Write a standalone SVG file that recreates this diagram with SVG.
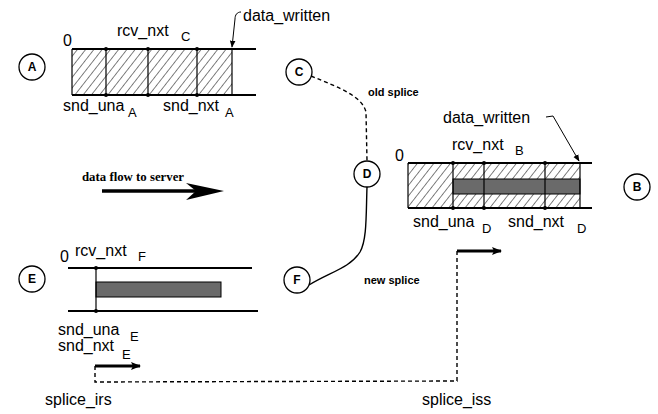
<svg xmlns="http://www.w3.org/2000/svg" width="658" height="414" viewBox="0 0 658 414">
<defs>
<pattern id="hatch" patternUnits="userSpaceOnUse" width="6.5" height="6.5" patternTransform="rotate(38)">
<line x1="0" y1="-1" x2="0" y2="8" stroke="#000" stroke-width="1"/>
</pattern>
<marker id="ah" viewBox="0 0 10 10" refX="9" refY="5" markerWidth="7" markerHeight="7" orient="auto" markerUnits="userSpaceOnUse">
<path d="M0,1 L10,5 L0,9 Z" fill="#000"/>
</marker>
<marker id="bigah" viewBox="0 0 10 10" refX="9" refY="5" markerWidth="14" markerHeight="10" orient="auto" markerUnits="userSpaceOnUse">
<path d="M0,1 L10,5 L0,9 L2,5 Z" fill="#000"/>
</marker>
</defs>
<style>
.t{font-family:"Liberation Sans",Arial,sans-serif;font-size:16px;fill:#000}
.s{font-family:"Liberation Sans",Arial,sans-serif;font-size:13px;fill:#000}
.lb{font-family:"Liberation Sans",Arial,sans-serif;font-size:11px;font-weight:bold;fill:#000}
.sf{font-family:"Liberation Serif","Times New Roman",serif;font-size:12.5px;font-weight:bold;fill:#000}
.nc{fill:#fff;stroke:#000;stroke-width:1.3}
.nt{font-family:"Liberation Sans",Arial,sans-serif;font-size:12px;font-weight:bold;text-anchor:middle;fill:#000}
.ln{stroke:#000;stroke-width:2;fill:none}
.dv{stroke:#000;stroke-width:1.2;fill:none}
.hb{fill:url(#hatch);stroke:none}
.gb{fill:#6a6a6a;stroke:#000;stroke-width:1}
.dash{stroke:#000;stroke-width:1.4;fill:none;stroke-dasharray:4,3}
.sol{stroke:#000;stroke-width:1.4;fill:none}
.ld{stroke:#000;stroke-width:1;fill:none}
</style>

<g id="panel-A">
<rect class="hb" x="72" y="49" width="160" height="46"/>
<line class="ln" x1="72" y1="49" x2="256" y2="49"/>
<line class="ln" x1="72" y1="95" x2="256" y2="95"/>
<line class="dv" x1="72" y1="49" x2="72" y2="95"/>
<line class="dv" x1="106" y1="49" x2="106" y2="95"/>
<line class="dv" x1="148" y1="49" x2="148" y2="95"/>
<line class="dv" x1="197" y1="49" x2="197" y2="95"/>
<line class="dv" x1="232" y1="49" x2="232" y2="95"/>
<g fill="#000"><circle cx="106" cy="49" r="2"/><circle cx="148" cy="49" r="2"/><circle cx="197" cy="49" r="2"/><circle cx="106" cy="95" r="2"/><circle cx="148" cy="95" r="2"/><circle cx="197" cy="95" r="2"/></g>
<text class="t" x="63" y="46">0</text>
<text class="t" x="117" y="36">rcv_nxt</text><text class="s" x="181" y="41">C</text>
<text class="t" x="243" y="21">data_written</text>
<path class="ld" d="M241,12 C237,12 235,15 235,19 L232,47" marker-end="url(#ah)"/>
<text class="t" x="63" y="111">snd_una</text><text class="s" x="128" y="117">A</text>
<text class="t" x="163" y="111">snd_nxt</text><text class="s" x="225" y="117">A</text>
</g>

<g id="panel-B">
<rect class="hb" x="408" y="163" width="172" height="45"/>
<rect class="gb" x="453" y="179" width="127" height="15"/>
<line class="ln" x1="408" y1="163" x2="592" y2="163"/>
<line class="ln" x1="408" y1="208" x2="592" y2="208"/>
<line class="dv" x1="408" y1="163" x2="408" y2="208"/>
<line class="dv" x1="453" y1="163" x2="453" y2="208"/>
<line class="dv" x1="484" y1="163" x2="484" y2="208"/>
<line class="dv" x1="545" y1="163" x2="545" y2="208"/>
<line class="dv" x1="580" y1="163" x2="580" y2="208"/>
<g fill="#000"><circle cx="453" cy="163" r="2"/><circle cx="484" cy="163" r="2"/><circle cx="545" cy="163" r="2"/><circle cx="453" cy="208" r="2"/><circle cx="484" cy="208" r="2"/><circle cx="545" cy="208" r="2"/></g>
<text class="t" x="395" y="161">0</text>
<text class="t" x="452" y="150">rcv_nxt</text><text class="s" x="515" y="155">B</text>
<text class="t" x="443" y="123">data_written</text>
<path class="ld" d="M546,117 L553,116 L579,161" marker-end="url(#ah)"/>
<text class="t" x="413" y="227">snd_una</text><text class="s" x="482" y="233">D</text>
<text class="t" x="508" y="227">snd_nxt</text><text class="s" x="577" y="233">D</text>
</g>

<g id="panel-E">
<rect class="gb" x="96" y="282" width="125" height="15"/>
<line class="ln" x1="68" y1="268" x2="252" y2="268"/>
<line class="ln" x1="68" y1="311" x2="258" y2="311"/>
<line class="dv" x1="96" y1="268" x2="96" y2="311"/>
<g fill="#000"><circle cx="96" cy="268" r="2"/><circle cx="96" cy="311" r="2"/></g>
<text class="t" x="60" y="262">0</text>
<text class="t" x="75" y="256">rcv_nxt</text><text class="s" x="138" y="261">F</text>
<text class="t" x="58" y="335">snd_una</text><text class="s" x="130" y="341">E</text>
<text class="t" x="58" y="351">snd_nxt</text><text class="s" x="122" y="359">E</text>
</g>

<g id="flow-label">
<text class="sf" x="82" y="181" textLength="102" lengthAdjust="spacingAndGlyphs">data flow to server</text>
<line x1="102" y1="191" x2="210" y2="191" stroke="#000" stroke-width="3.5"/>
<path d="M186,183 L224,191 L186,200 L196,191 Z" fill="#000"/>
</g>

<g id="node-A"><circle class="nc" cx="32" cy="67" r="13"/><text class="nt" x="32" y="71">A</text></g>
<g id="node-B"><circle class="nc" cx="637" cy="187" r="13"/><text class="nt" x="637" y="191">B</text></g>
<g id="node-C"><circle class="nc" cx="299" cy="72" r="13"/><text class="nt" x="299" y="76">C</text></g>
<g id="node-D"><circle class="nc" cx="367" cy="174" r="13"/><text class="nt" x="367" y="178">D</text></g>
<g id="node-E"><circle class="nc" cx="32" cy="279" r="13"/><text class="nt" x="32" y="283">E</text></g>
<g id="node-F"><circle class="nc" cx="297" cy="280" r="13"/><text class="nt" x="297" y="284">F</text></g>

<g id="connectors">
<path class="dash" d="M311,76 C340,88 362,96 366,112 L367,161"/>
<path class="sol" d="M367,187 C366,215 367,240 360,252 C350,268 330,272 309,285"/>
<path class="dash" d="M95,366 L95,382 L457,381 L457,251"/>
<line x1="95" y1="366" x2="140" y2="366" stroke="#000" stroke-width="3" marker-end="url(#bigah)"/>
<line x1="457" y1="251" x2="501" y2="251" stroke="#000" stroke-width="3" marker-end="url(#bigah)"/>
<text class="lb" x="368" y="96">old splice</text>
<text class="lb" x="364" y="284">new splice</text>
<text class="t" x="45" y="405">splice_irs</text>
<text class="t" x="422" y="405">splice_iss</text>
</g>
</svg>
